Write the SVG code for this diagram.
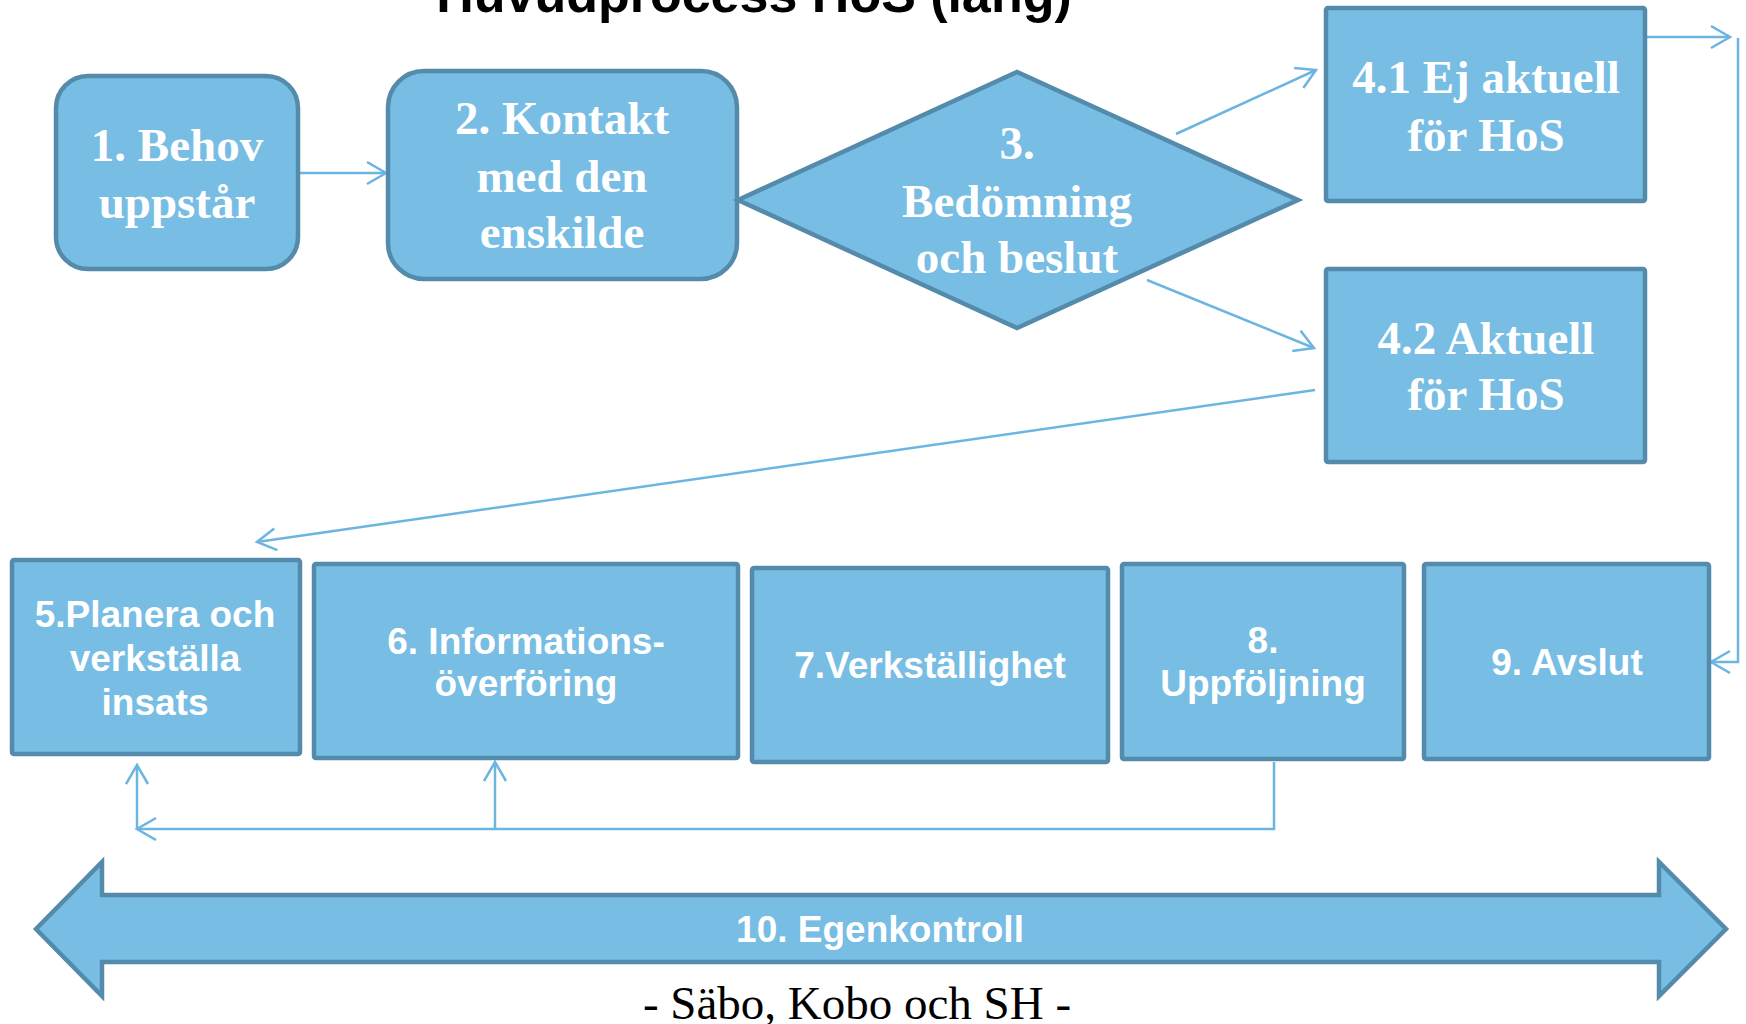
<svg xmlns="http://www.w3.org/2000/svg" width="1746" height="1024" viewBox="0 0 1746 1024">
<defs>
<marker id="arr" markerUnits="userSpaceOnUse" markerWidth="24" markerHeight="26" refX="20" refY="12" orient="auto" viewBox="0 0 24 26">
<path d="M1,1 L20,12 L1,23" fill="none" stroke="#6DB5E1" stroke-width="2.5"/>
</marker>
</defs>
<style>
.box{fill:#77BDE4;stroke:#548BAA;stroke-width:4.5}
.serif{font-family:"Liberation Serif","Times New Roman",serif;font-weight:bold;font-size:47px;fill:#fff;text-anchor:middle}
.sans{font-family:"Liberation Sans",Arial,sans-serif;font-weight:bold;font-size:37px;fill:#fff;text-anchor:middle}
.conn{fill:none;stroke:#6DB5E1;stroke-width:2.5}
</style>
<rect width="1746" height="1024" fill="#fff"/>
<text x="754" y="12" font-family="Liberation Sans, Arial, sans-serif" font-weight="bold" font-size="52" text-anchor="middle" fill="#000">Huvudprocess HoS (lång)</text>

<g id="connectors">
<path class="conn" d="M299,173 H386" marker-end="url(#arr)"/>
<path class="conn" d="M1176,134 L1316,70" marker-end="url(#arr)"/>
<path class="conn" d="M1147,280 L1314,348" marker-end="url(#arr)"/>
<path class="conn" d="M1315,390 L257,542" marker-end="url(#arr)"/>
<path class="conn" d="M1646,37 H1730" marker-end="url(#arr)"/>
<path class="conn" d="M1738,38 V662 H1711" marker-end="url(#arr)"/>
<path class="conn" d="M1274,762 V829 H137" marker-end="url(#arr)"/>
<path class="conn" d="M137,829 V765" marker-end="url(#arr)"/>
<path class="conn" d="M495,829 V762" marker-end="url(#arr)"/>
</g>

<g id="n1">
<rect class="box" x="56" y="76" width="242" height="193" rx="32"/>
<text class="serif" x="177" y="161">1. Behov</text>
<text class="serif" x="177" y="218">uppstår</text>
</g>
<g id="n2">
<rect class="box" x="388" y="71" width="349" height="208" rx="36"/>
<text class="serif" x="562" y="134">2. Kontakt</text>
<text class="serif" x="562" y="192">med den</text>
<text class="serif" x="562" y="248">enskilde</text>
</g>
<g id="n3">
<polygon class="box" points="738,200 1017,72 1298,200 1017,328"/>
<text class="serif" x="1017" y="159">3.</text>
<text class="serif" x="1017" y="217">Bedömning</text>
<text class="serif" x="1017" y="273">och beslut</text>
</g>
<g id="n41">
<rect class="box" x="1326" y="8" width="319" height="193" rx="2"/>
<text class="serif" x="1486" y="93">4.1 Ej aktuell</text>
<text class="serif" x="1486" y="151">för HoS</text>
</g>
<g id="n42">
<rect class="box" x="1326" y="269" width="319" height="193" rx="2"/>
<text class="serif" x="1486" y="354">4.2 Aktuell</text>
<text class="serif" x="1486" y="410">för HoS</text>
</g>
<g id="n5">
<rect class="box" x="12" y="560" width="288" height="194" rx="2"/>
<text class="sans" x="155" y="627">5.Planera och</text>
<text class="sans" x="155" y="671">verkställa</text>
<text class="sans" x="155" y="715">insats</text>
</g>
<g id="n6">
<rect class="box" x="314" y="564" width="424" height="194" rx="2"/>
<text class="sans" x="526" y="654">6. Informations-</text>
<text class="sans" x="526" y="696">överföring</text>
</g>
<g id="n7">
<rect class="box" x="752" y="568" width="356" height="194" rx="2"/>
<text class="sans" x="930" y="678">7.Verkställighet</text>
</g>
<g id="n8">
<rect class="box" x="1122" y="564" width="282" height="195" rx="2"/>
<text class="sans" x="1263" y="653">8.</text>
<text class="sans" x="1263" y="696">Uppföljning</text>
</g>
<g id="n9">
<rect class="box" x="1424" y="564" width="285" height="195" rx="2"/>
<text class="sans" x="1567" y="675">9. Avslut</text>
</g>
<g id="n10">
<polygon class="box" stroke-width="3.5" points="36,929 102,862 102,895 1659,895 1659,862 1726,929 1659,996 1659,962 102,962 102,996"/>
<text class="sans" x="880" y="942" font-size="35">10. Egenkontroll</text>
</g>
<text x="857" y="1019" font-family="Liberation Serif, Times New Roman, serif" font-size="47" text-anchor="middle" fill="#000">- Säbo, Kobo och SH -</text>
</svg>
